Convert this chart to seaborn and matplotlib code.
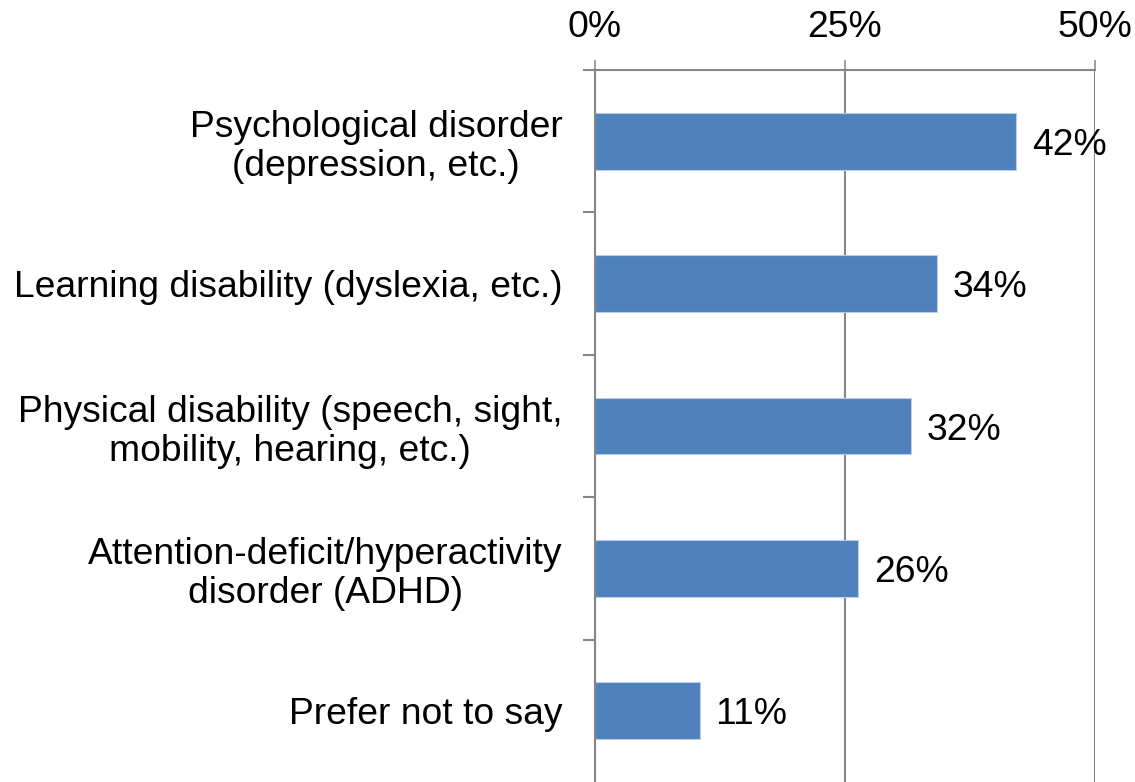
import matplotlib
matplotlib.use("Agg")
import matplotlib.pyplot as plt
import seaborn as sns
import numpy as np
import pandas as pd

categories = [
    "Psychological disorder\n(depression, etc.)",
    "Learning disability (dyslexia, etc.)",
    "Physical disability (speech, sight,\nmobility, hearing, etc.)",
    "Attention-deficit/hyperactivity\ndisorder (ADHD)",
    "Prefer not to say",
]
values = [42.1, 34.2, 31.6, 26.3, 10.5]
value_labels = ["42%", "34%", "32%", "26%", "11%"]
x_ticks = [0, 25, 50]
x_tick_labels = ["0%", "25%", "50%"]

sns.set_theme(style="white")
plt.rcParams["font.family"] = ["Liberation Sans", "DejaVu Sans"]
plt.rcParams["text.color"] = "black"
plt.rcParams["xtick.labelcolor"] = "black"
plt.rcParams["ytick.labelcolor"] = "black"

FS = 26.8

df = pd.DataFrame({"category": categories, "value": values})

fig = plt.figure(figsize=(11.35, 7.82), dpi=100)
ax = fig.add_axes([594.5 / 1135, 0.0, (1095 - 594.5) / 1135, 1 - 70 / 782])

grey = "#868686"
sns.barplot(data=df, x="value", y="category", color="#4F81BD", width=0.4,
            saturation=1, edgecolor="#B9CDE5", linewidth=0.8, ax=ax)

ax.set_xlim(0, 50)
ax.set_ylim(len(categories) - 0.5, -0.5)
ax.set_xlabel("")
ax.set_ylabel("")

ax.set_axisbelow(True)
ax.xaxis.tick_top()
ax.set_xticks(x_ticks)
ax.set_xticklabels(x_tick_labels, fontsize=FS, color="black")
ax.tick_params(axis="x", which="major", top=True, bottom=False, length=7.2,
               width=1.1, color=grey, pad=10.5, labelsize=FS, labelcolor="black")
ax.grid(axis="x", color=grey, linewidth=1.5)
ax.grid(axis="y", visible=False)

ax.set_yticks(np.arange(len(categories)))
ax.set_yticklabels(categories, fontsize=FS, color="black")
for t in ax.get_yticklabels():
    t.set_multialignment("center")
    t.set_linespacing(1.15)
ax.tick_params(axis="y", which="major", length=0, pad=23, labelsize=FS,
               labelcolor="black")
ax.set_yticks(np.arange(len(categories)) - 0.5, minor=True)
ax.tick_params(axis="y", which="minor", left=True, length=8.6, width=1.5,
               color=grey, direction="out")

for s in ["right", "bottom"]:
    ax.spines[s].set_visible(False)
for s in ["left", "top"]:
    ax.spines[s].set_color(grey)
    ax.spines[s].set_linewidth(1.5)

anns = ax.bar_label(ax.containers[0], labels=value_labels, padding=11.5,
                    fontsize=FS, color="black")
for a in anns:
    a.xyann = (11.5, -3.0)

fig.savefig("out.png", dpi=100)
